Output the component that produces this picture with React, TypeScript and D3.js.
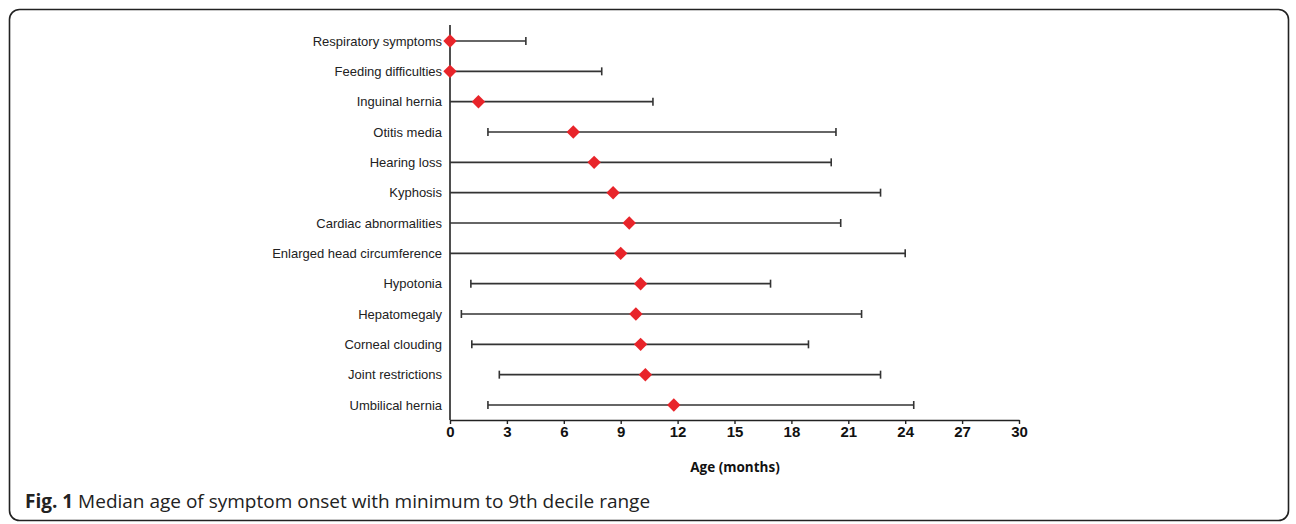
import { useEffect, useRef } from 'react';
import * as d3 from 'd3';

// symptoms, top to bottom
const symptoms = [
  'Respiratory symptoms',
  'Feeding difficulties',
  'Inguinal hernia',
  'Otitis media',
  'Hearing loss',
  'Kyphosis',
  'Cardiac abnormalities',
  'Enlarged head circumference',
  'Hypotonia',
  'Hepatomegaly',
  'Corneal clouding',
  'Joint restrictions',
  'Umbilical hernia',
];

// months
const minAge = [0, 0, 0, 2.0, 0, 0, 0, 0, 1.1, 0.6, 1.15, 2.6, 2.0];
const medianAge = [0, 0, 1.5, 6.5, 7.6, 8.6, 9.45, 9.0, 10.05, 9.8, 10.05, 10.3, 11.8];
const decile9Age = [4.0, 8.0, 10.7, 20.35, 20.1, 22.7, 20.6, 24.0, 16.9, 21.7, 18.9, 22.7, 24.45];

const xTicks = [0, 3, 6, 9, 12, 15, 18, 21, 24, 27, 30];

const W = 1296;
const H = 524;

function App() {
  const svgRef = useRef<SVGSVGElement>(null);

  useEffect(() => {
    const svg = d3.select(svgRef.current);
    svg.selectAll('*').remove();

    // frame
    svg.append('rect')
      .attr('x', 9.5).attr('y', 9.5)
      .attr('width', 1279).attr('height', 511)
      .attr('rx', 10)
      .attr('fill', 'white')
      .attr('stroke', '#222')
      .attr('stroke-width', 1.6);

    const x = d3.scaleLinear().domain([0, 30]).range([450, 1019]);
    const y = d3.scalePoint<string>().domain(symptoms).range([41, 405]);
    const axisY = 420;

    const g = svg.append('g');

    // x axis
    const xAxis = g.append('g')
      .attr('transform', `translate(0,${axisY})`)
      .call(d3.axisBottom(x).tickValues(xTicks).tickSize(4).tickSizeOuter(0).tickFormat(d3.format('d')));
    xAxis.select('.domain').attr('stroke', '#222').attr('stroke-width', 1.6);
    xAxis.selectAll('.tick line').attr('stroke', '#222').attr('stroke-width', 1.4);
    xAxis.selectAll('.tick text')
      .attr('y', 6)
      .attr('fill', '#111')
      .style('font-family', '"Liberation Sans", Arial, sans-serif')
      .style('font-size', '15px')
      .style('font-weight', 'bold');

    // y axis line
    g.append('line')
      .attr('x1', x(0)).attr('x2', x(0))
      .attr('y1', 25).attr('y2', axisY)
      .attr('stroke', '#222').attr('stroke-width', 1.6);

    // labels
    g.selectAll('.lbl')
      .data(symptoms)
      .enter()
      .append('text')
      .attr('x', 442)
      .attr('y', d => y(d)!)
      .attr('dy', '0.35em')
      .attr('text-anchor', 'end')
      .attr('fill', '#222')
      .style('font-family', '"Liberation Sans", Arial, sans-serif')
      .style('font-size', '13px')
      .text(d => d);

    // range lines
    g.selectAll('.rng')
      .data(symptoms)
      .enter()
      .append('line')
      .attr('x1', (d, i) => x(minAge[i]))
      .attr('x2', (d, i) => x(decile9Age[i]))
      .attr('y1', d => y(d)!)
      .attr('y2', d => y(d)!)
      .attr('stroke', '#333')
      .attr('stroke-width', 1.6);

    // caps
    const caps: [number, string][] = [];
    symptoms.forEach((s, i) => {
      if (minAge[i] > 0) caps.push([minAge[i], s]);
      caps.push([decile9Age[i], s]);
    });
    g.selectAll('.cap')
      .data(caps)
      .enter()
      .append('line')
      .attr('x1', d => x(d[0]))
      .attr('x2', d => x(d[0]))
      .attr('y1', d => y(d[1])! - 4)
      .attr('y2', d => y(d[1])! + 4)
      .attr('stroke', '#333')
      .attr('stroke-width', 1.6);

    // medians
    const diamond = d3.symbol().type(d3.symbolSquare).size(90);
    g.selectAll('.med')
      .data(symptoms)
      .enter()
      .append('path')
      .attr('d', diamond)
      .attr('transform', (d, i) => `translate(${x(medianAge[i])},${y(d)}) rotate(45)`)
      .attr('fill', '#e8242a');

    // axis title
    svg.append('text')
      .attr('x', 735).attr('y', 472)
      .attr('text-anchor', 'middle')
      .attr('fill', '#111')
      .style('font-family', '"Open Sans", sans-serif')
      .style('font-size', '13.5px')
      .style('font-weight', 'bold')
      .text('Age (months)');

    // caption
    const cap = svg.append('text')
      .attr('x', 25).attr('y', 508)
      .attr('fill', '#222')
      .style('font-family', '"Open Sans", sans-serif')
      .style('font-size', '19px');
    cap.append('tspan').style('font-weight', 'bold').text('Fig. 1');
    cap.append('tspan').text(' Median age of symptom onset with minimum to 9th decile range');
  }, []);

  return (
    <div style={{ position: 'absolute', left: 0, top: 0 }}>
      <svg ref={svgRef} width={W} height={H} viewBox={`0 0 ${W} ${H}`} style={{ display: 'block' }} />
    </div>
  );
}

export default App;
